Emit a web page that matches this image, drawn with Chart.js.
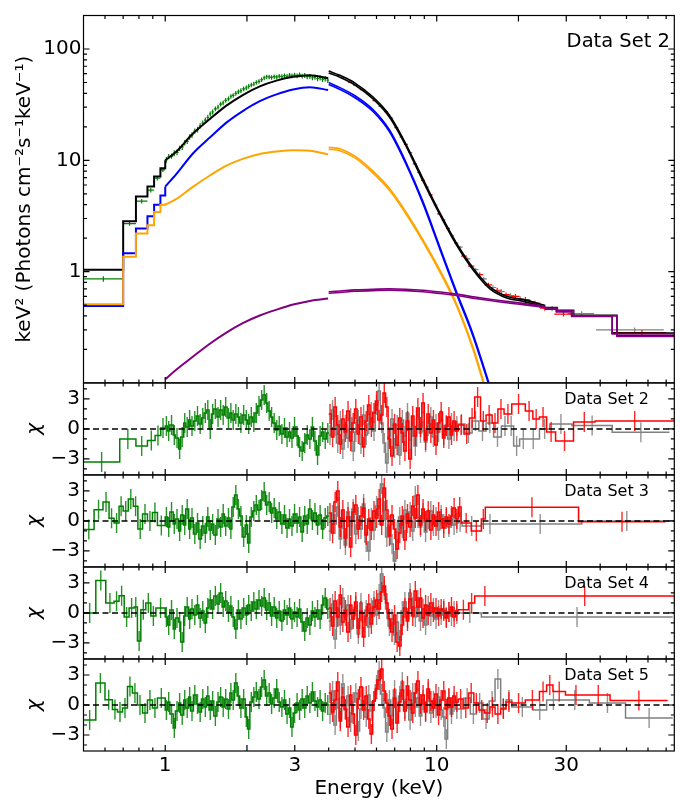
<!DOCTYPE html>
<html>
<head>
<meta charset="utf-8">
<script src="https://cdn.jsdelivr.net/npm/chart.js@4.4.0/dist/chart.umd.min.js"></script>
<style>
  html, body { margin: 0; padding: 0; background: #fff; }
  #wrap { width: 680px; height: 801px; }
</style>
</head>
<body>
<div id="wrap"><canvas id="spec" width="680" height="801"></canvas></div>
<script>
// ── axes / ticks ─────────────────────────────
const xRange = [0.5, 75];
const xTickLabels = [1, 3, 10, 30];
const xMajorTicks = [1, 2, 3, 10, 20, 30];
const xMinorTicks = [0.6, 0.7, 0.8, 0.9, 4, 5, 6, 7, 8, 9, 40, 50, 60, 70];
const yMainRange = [0.1, 200];
const yMainLabels = [1, 10, 100];
const yMainMinor = [0.2, 0.3, 0.4, 0.5, 0.6, 0.7, 0.8, 0.9, 2, 3, 4, 5, 6, 7, 8, 9, 20, 30, 40, 50, 60, 70, 80, 90];
const yResRange = [-4.6, 4.6];
const yResLabels = [-3, 0, 3];
const yResMinor = [-4, -2, -1, 1, 2, 4];
const panelNames = ['Data Set 2', 'Data Set 3', 'Data Set 4', 'Data Set 5'];

// ── energy grids (keV, bin edges) ────────────
const lowEdges = [0.5, 0.70, 0.78, 0.86, 0.91, 0.96, 1.0];
const softEdges = [1.00, 1.02, 1.04, 1.07, 1.09, 1.12, 1.14, 1.17, 1.19, 1.22, 1.24, 1.27, 1.30, 1.33, 1.36, 1.39,
  1.42, 1.45, 1.48, 1.51, 1.55, 1.58, 1.62, 1.65, 1.69, 1.73, 1.76, 1.80, 1.84, 1.88, 1.92, 1.97, 2.01, 2.05,
  2.10, 2.14, 2.19, 2.24, 2.29, 2.34, 2.39, 2.44, 2.49, 2.55, 2.60, 2.66, 2.72, 2.78, 2.84, 2.90, 2.96, 3.03,
  3.09, 3.16, 3.23, 3.30, 3.37, 3.45, 3.52, 3.60, 3.68, 3.76, 3.84, 3.93, 4.01];
const hardEdges = [4.00, 4.09, 4.18, 4.27, 4.37, 4.46, 4.56, 4.66, 4.77, 4.87, 4.98, 5.09, 5.20, 5.32, 5.44, 5.56,
  5.68, 5.81, 5.94, 6.07, 6.20, 6.34, 6.48, 6.62, 6.77, 6.92, 7.07, 7.23, 7.39, 7.55, 7.72, 7.89, 8.07, 8.25,
  8.43, 8.62, 8.81, 9.00, 9.20, 9.41, 9.62, 9.83, 10.05, 10.27, 10.50, 10.73, 10.97, 11.21, 11.46, 11.72, 12.00];

// ── model components, Data Set 2 (keV^2 photons cm^-2 s^-1 keV^-1) ──
const blackLow = [1.04, 2.83, 4.73, 5.81, 7.14, 8.48];
const blueLow = [0.49, 1.46, 2.44, 3.14, 3.99, 4.83];
const orangeLow = [0.51, 1.36, 2.2, 2.61, 3.43, 3.99];

const leftModelE = [1.0, 1.1, 1.26, 1.46, 1.68, 1.93, 2.23, 2.57, 2.96, 3.41, 3.98];
const blackLeft = [10.0, 12.0, 17.2, 23.5, 31.0, 38.6, 46.2, 52.0, 56.2, 58.1, 54.8];
const blueLeft = [5.8, 7.55, 11.4, 16.0, 21.8, 27.7, 34.0, 39.1, 43.3, 45.4, 42.8];
const orangeLeft = [4.0, 4.5, 5.74, 7.3, 8.95, 10.3, 11.4, 12.0, 12.3, 12.2, 11.3];
const purpleLeft = [0.108, 0.132, 0.171, 0.225, 0.283, 0.344, 0.403, 0.455, 0.506, 0.545, 0.572];

const rightModelE = [4.0, 4.4, 5.0, 5.8, 6.7, 7.7, 8.9, 10.3, 11.8, 13.6, 15.7, 18.1, 20.8, 23.5, 25.1];
const blackRightA = [61.0, 55.8, 47.5, 35.9, 24.4, 13.5, 6.5, 3.2, 1.75, 1.04, 0.70, 0.58, 0.54, 0.50, 0.48];
const blackRightB = [63.4, 58.0, 49.4, 37.3, 25.4, 14.0, 6.8, 3.33, 1.82, 1.08, 0.73, 0.60, 0.56, 0.52, 0.495];
const blueRightA = [48.0, 43.3, 36.5, 27.7, 18.0, 9.27, 4.07, 1.56, 0.64, 0.263, 0.09];
const blueRightB = [49.9, 45.0, 38.0, 28.8, 18.7, 9.65, 4.25, 1.63, 0.67, 0.275, 0.094];
const orangeRightA = [12.6, 12.2, 10.5, 7.76, 5.37, 3.31, 1.86, 0.977, 0.50, 0.20, 0.063];
const orangeRightB = [13.1, 12.7, 10.9, 8.07, 5.58, 3.44, 1.93, 1.02, 0.52, 0.21, 0.066];
const purpleRightA = [0.64, 0.65, 0.665, 0.675, 0.68, 0.675, 0.66, 0.635, 0.61, 0.578, 0.55, 0.525, 0.505, 0.485, 0.472];
const purpleRightB = [0.66, 0.67, 0.685, 0.695, 0.70, 0.695, 0.68, 0.655, 0.628, 0.595, 0.565, 0.54, 0.518, 0.498, 0.485];

const tailEdgesA = [25.1, 27.6, 31.4, 44.3, 75];
const blackTailA = [0.465, 0.44, 0.40, 0.28];
const purpleTailA = [0.46, 0.435, 0.395, 0.275];
const tailEdgesB = [25.1, 27.8, 31.9, 46.1, 75];
const blackTailB = [0.475, 0.45, 0.405, 0.265];
const purpleTailB = [0.47, 0.445, 0.40, 0.262];

// ── unfolded data, Data Set 2 ────────────────
const greenLowVals = [0.86, 2.7, 4.3, 5.4, 6.9, 8.2];
const greenLowErr = [0.05, 0.12, 0.2, 0.25, 0.3, 0.35];
const greenSoftVals = [10.1, 10.8, 10.9, 11.6, 11.8, 12.8, 13.2, 14.4, 14.8, 16.2,
  16.9, 18.3, 18.9, 20.4, 21.6, 23.0, 24.3, 26.1, 27.2, 29.0,
  30.1, 32.0, 32.8, 34.6, 35.7, 37.5, 38.3, 40.0, 41.2, 42.3,
  43.9, 44.8, 46.2, 47.5, 48.5, 50.0, 51.2, 53.0, 55.0, 56.3,
  56.2, 55.6, 56.4, 55.8, 57.0, 56.5, 57.6, 56.9, 58.2, 57.4,
  58.3, 57.5, 58.6, 57.2, 57.9, 56.3, 56.8, 55.2, 55.9, 54.3,
  55.0, 53.4, 54.1, 52.6];
const greenSoftErr = [0.6, 0.6, 0.6, 0.7, 0.7, 0.7, 0.8, 0.8, 0.8, 0.9,
  1.0, 1.0, 1.1, 1.1, 1.2, 1.2, 1.3, 1.3, 1.4, 1.4,
  1.5, 1.6, 1.6, 1.7, 1.7, 1.8, 1.8, 1.9, 2.0, 2.0,
  2.1, 2.1, 2.2, 2.2, 2.3, 2.3, 2.4, 2.4, 2.5, 2.5,
  2.6, 2.6, 2.6, 2.6, 2.7, 2.7, 2.7, 2.7, 2.8, 2.8,
  2.8, 2.8, 2.8, 2.8, 2.9, 2.9, 2.9, 2.9, 2.9, 2.9,
  3.0, 3.0, 3.0, 3.0];
// hard-band points: centre energy, half bin width, value, error
const redMainE = [4.3, 4.8, 5.3, 5.9, 6.5, 7.1, 7.7, 8.3, 8.9, 9.5, 10.2, 11.0, 11.8, 12.6, 13.4, 14.4, 15.5,
  16.7, 18.0, 19.5, 21.2, 23.0, 25.0, 29.3, 57];
const redMainDE = [0.07, 0.08, 0.09, 0.1, 0.11, 0.12, 0.13, 0.14, 0.15, 0.16, 0.17, 0.18, 0.2, 0.3, 0.35, 0.4,
  0.5, 0.55, 0.6, 0.7, 0.8, 0.9, 1.0, 2.2, 13];
const redMainVals = [57.8, 50.1, 43.2, 34.4, 27.3, 19.7, 13.9, 9.3, 6.6, 4.9, 3.3, 2.45, 1.8, 1.38, 1.12, 0.94,
  0.76, 0.68, 0.62, 0.60, 0.56, 0.52, 0.47, 0.415, 0.283];
const redMainErr = [0.6, 0.5, 0.45, 0.35, 0.3, 0.22, 0.17, 0.12, 0.09, 0.07, 0.055, 0.045, 0.04, 0.04, 0.04, 0.04,
  0.035, 0.035, 0.03, 0.03, 0.03, 0.028, 0.025, 0.02, 0.015];
const grayMainE = [4.5, 5.0, 5.6, 6.2, 6.8, 7.4, 8.0, 8.6, 9.2, 9.9, 10.6, 11.4, 12.2, 13.0, 13.9, 14.9, 16.1,
  17.3, 18.7, 20.3, 22.1, 24.0, 26.6, 34.2, 53.6];
const grayMainDE = [0.07, 0.08, 0.09, 0.1, 0.11, 0.12, 0.13, 0.14, 0.15, 0.16, 0.17, 0.18, 0.25, 0.3, 0.35, 0.4,
  0.45, 0.5, 0.6, 0.7, 0.8, 0.9, 1.2, 3.8, 15];
const grayMainVals = [55.3, 47.0, 39.5, 30.5, 23.9, 16.2, 11.7, 7.8, 5.75, 3.95, 2.92, 2.1, 1.66, 1.3, 1.04, 0.86,
  0.72, 0.66, 0.61, 0.57, 0.53, 0.50, 0.465, 0.42, 0.30];
const grayMainErr = [0.6, 0.5, 0.45, 0.35, 0.3, 0.22, 0.17, 0.12, 0.09, 0.07, 0.055, 0.045, 0.04, 0.04, 0.04, 0.04,
  0.035, 0.035, 0.03, 0.03, 0.03, 0.028, 0.025, 0.02, 0.015];

// ── residuals (chi) ──────────────────────────
// Data Set 2
const ds2LowEdges = [0.5, 0.68, 0.78, 0.86, 0.918, 0.963, 1.0];
const ds2LowVals = [-3.3, -1.0, -1.7, -1.15, -0.65, 0.1];
const ds2Soft = [0.3, -0.2, 0.4, -0.6, -0.9, -2.0, -0.8, 0.6, 0.2, 0.9,
  0.3, 0.8, 1.3, 0.5, 1.1, 1.6, 1.9, 0.0, 1.5, 2.0,
  1.2, 1.9, 1.4, 2.2, 1.1, 1.6, 0.9, 1.5, 1.2, 0.6,
  1.4, 0.9, 0.5, 1.2, 0.7, 1.6, 2.3, 2.9, 3.4, 2.6,
  1.8, 1.2, 0.6, -0.1, 0.3, -0.5, 0.1, -0.8, -0.3, -0.9,
  0.2, -0.7, -1.8, -2.2, -1.4, -0.6, -1.0, 0.2, -1.2, -2.6,
  -0.7, -0.3, -1.0, -0.4];
const ds2Red = [1.5, -0.8, 2.2, 0.4, -1.5, 1.0, -0.3, 1.8, -1.2, 0.6,
  2.0, -0.5, 1.2, -1.8, 0.8, 2.4, 0.2, 1.6, 2.8, 0.9,
  1.4, 3.6, 2.2, -1.0, -2.7, 0.5, -1.6, 1.1, -0.4, -2.2,
  0.8, -3.0, 1.3, -0.7, 2.1, 0.2, 2.6, -1.1, 1.5, -0.4,
  0.9, -1.6, 0.6, 1.7, -0.9, 0.3, 1.2, -0.6, 0.8, -0.2];
const ds2RedTailEdges = [12.0, 12.6, 13.2, 13.8, 14.5, 15.2, 16.0, 16.8, 17.7, 18.9, 21.2, 22.6, 23.9, 25.4, 27.4, 31.9, 38.3, 75];
const ds2RedTail = [0.4, -0.5, 1.1, 3.2, 0.8, 1.4, 0.6, 2.0, 1.5, 2.5, 1.8, 1.0, 1.2, -0.3, -1.2, 0.7, 0.8];
const ds2Gray = [-0.6, 1.9, 0.3, -1.4, 0.8, -2.0, 0.4, -0.9, 1.1, -2.2,
  -0.3, 0.9, -1.5, 1.4, -0.6, 0.5, 1.7, -0.2, 2.4, 3.8,
  0.6, -1.4, -3.4, -0.8, 1.0, -1.9, 0.4, -2.6, 0.9, -0.7,
  1.6, -1.1, 0.2, -1.7, 1.0, -0.4, 0.7, -1.3, 0.3, 1.2,
  -0.8, 0.5, -0.3, 0.9, -0.6, 0.4, -1.0, 0.6, -0.2, 0.3];
const ds2GrayTailEdges = [12.0, 12.7, 13.5, 14.3, 15.2, 16.2, 17.3, 18.4, 19.2, 20.2, 21.5, 23.9, 26.1, 31.5, 44.3, 72];
const ds2GrayTail = [0.5, -0.4, 0.8, -0.2, 0.6, -0.8, 0.3, 0.3, -1.7, -1.0, -1.0, 0.0, 0.5, 0.33, -0.33];

// Data Set 3
const ds3LowEdges = [0.5, 0.547, 0.59, 0.621, 0.648, 0.676, 0.70, 0.731, 0.763, 0.793, 0.825, 0.86, 0.897, 0.936, 1.0];
const ds3LowVals = [-0.86, 1.13, 1.9, 0.27, -0.2, 1.46, 1.0, 2.2, 1.46, -0.8, 0.7, 0.0, 0.85, -0.45];
const ds3Soft = [0.4, -0.6, 0.9, -0.3, 0.2, -1.0, 0.6, -0.4, 1.2, -0.8,
  0.3, -1.3, -0.2, -1.8, -0.5, -1.2, 0.4, -0.9, -0.3, -1.4,
  0.2, -0.6, 0.7, -0.5, 0.3, -0.8, 1.4, 2.6, 1.2, 0.5,
  -1.6, -0.4, -2.2, 0.4, 1.0, 1.6, 1.1, 2.1, 2.9, 1.6,
  1.9, 0.8, 1.3, 0.2, 0.9, -0.3, 0.6, -0.7, 0.2, -0.5,
  0.7, -0.2, 0.4, -1.1, 0.5, -0.3, 1.2, 0.1, 0.8, -0.4,
  0.6, -0.8, 0.3, 0.5];
const ds3Red = [0.8, -1.2, 1.9, 3.0, -0.6, 1.1, -1.7, 0.4, -2.6, 0.9,
  1.6, -0.8, 0.5, 1.3, -1.4, 0.2, -0.9, 1.0, 0.3, 2.2,
  -0.4, 3.3, 1.1, -1.5, 0.6, -0.8, -2.8, -1.2, 0.5, -1.9,
  0.7, -0.6, 1.5, 0.3, 2.6, -0.4, 1.2, 0.0, 1.0, -0.9,
  0.6, -0.5, 0.9, 0.2, -0.7, 0.4, -0.3, 0.5, 1.3, 0.2];
const ds3RedTailEdges = [12.0, 12.3, 13.4, 14.6, 15.1, 33.3, 69.6];
const ds3RedTail = [1.4, -0.2, -1.0, 0.2, 1.36, -0.07];
const ds3Gray = [-1.0, 0.6, -0.3, 1.4, -1.8, 0.2, -2.4, 0.9, -0.5, 1.2,
  -1.3, 0.4, -0.8, 1.7, -2.1, -3.0, 0.3, -0.9, 1.5, 0.6,
  3.7, 1.0, -1.6, -0.4, -2.3, -4.0, -1.1, 0.4, -0.7, 1.1,
  -0.2, 0.9, -1.0, 2.5, 0.3, -0.6, 0.8, -1.1, 0.2, 1.0,
  -0.5, 0.4, -0.9, 0.6, -0.3, 0.2, -0.6, 0.3, -0.4, -0.2];
const ds3GrayTailEdges = [12.0, 12.4, 14.6, 16.9, 34.2, 73.5];
const ds3GrayTail = [-0.07, -0.5, -0.3, -0.3, 0.0];

// Data Set 4
const ds4LowEdges = [0.5, 0.555, 0.604, 0.648, 0.676, 0.706, 0.736, 0.768, 0.79, 0.813, 0.848, 0.885, 0.924, 1.0];
const ds4LowVals = [0.0, 3.25, 1.0, 1.16, 1.72, -0.4, 0.5, 0.6, -2.8, 0.33, 1.0, -0.3, 0.5];
const ds4Soft = [-0.4, -1.2, 0.3, -1.6, -0.5, -0.9, -2.9, -0.3, 0.6, -0.6,
  0.4, -0.2, 0.8, -0.5, 0.2, -1.0, 0.5, 1.3, 0.4, 1.7,
  0.9, 2.0, 0.6, 1.2, 0.1, 0.7, -0.4, -1.6, 0.3, -0.6,
  0.5, -0.2, 0.8, 0.2, 1.1, 0.4, 1.3, 0.7, 1.5, 0.3,
  1.0, -0.3, 0.6, -0.5, 0.2, -0.8, 0.3, -0.2, 0.5, -0.6,
  0.1, -0.4, 0.4, -0.9, -1.8, -0.5, -1.2, 0.2, -0.4, 0.3,
  -0.6, 0.8, 1.5, 0.4];
const ds4Red = [0.5, -1.3, 1.2, -0.4, 1.8, -0.9, 0.3, -1.9, 0.8, -0.6,
  1.1, -1.5, 0.2, -2.4, -0.3, 0.9, -1.1, 0.6, 1.3, 0.4,
  2.1, 2.7, 1.0, -0.6, -1.9, -0.2, -2.9, -3.3, -1.2, 0.5,
  -0.8, 1.4, -0.3, 2.2, 0.6, 1.5, -0.5, 0.8, -0.2, 1.0,
  0.1, 0.5, -0.3, 0.4, 0.2, -0.5, 0.1, 0.6, -0.4, 0.2];
const ds4RedTailEdges = [12.0, 13.1, 13.8, 16.4, 75];
const ds4RedTail = [0.33, 1.0, 1.7, 1.7];
const ds4Gray = [-0.8, 0.9, -2.6, 0.4, -1.2, 1.5, -0.3, 0.8, -1.6, -0.4,
  0.7, -2.1, 1.0, -0.9, 0.3, -1.4, 0.5, 1.2, -0.2, 1.9,
  3.9, 2.3, 0.4, -1.3, -0.6, -2.2, -0.9, -2.7, 0.2, 1.1,
  -0.5, 2.0, 0.6, -0.4, 1.3, -0.8, 0.4, -1.2, 0.7, -0.3,
  0.5, -0.6, 0.3, -0.2, 0.4, -0.4, 0.1, -0.3, 0.2, -0.1];
const ds4GrayTailEdges = [12.0, 14.6, 74];
const ds4GrayTail = [0.0, -0.4];

// Data Set 5
const ds5LowEdges = [0.5, 0.555, 0.60, 0.639, 0.667, 0.696, 0.726, 0.757, 0.79, 0.825, 0.86, 0.897, 0.936, 1.0];
const ds5LowVals = [-1.5, 2.2, 0.53, -0.46, -0.7, -0.3, 1.86, 1.2, 0.0, -0.8, 0.5, -0.3, 0.7];
const ds5Soft = [-0.5, 0.3, -0.9, -2.3, -0.6, 0.2, -1.0, 0.5, -0.3, 0.8,
  -0.6, 1.0, 0.1, -0.7, 0.6, -0.2, 0.9, -0.5, 0.4, -1.1,
  0.3, 0.8, -0.2, 0.6, -0.4, 1.2, 0.5, 2.2, 0.9, -0.3,
  0.6, -1.2, -2.4, 0.3, 0.8, 1.3, 0.6, 1.8, 2.5, 0.9,
  1.2, 0.1, 0.7, 1.6, 0.3, -0.2, 0.5, -0.9, -0.3, -2.2,
  -0.8, 0.2, -0.5, 0.6, -0.3, 0.9, 0.2, 1.3, 0.4, -0.2,
  0.5, -0.6, 0.2, 0.0];
const ds5Red = [1.2, -0.7, 0.5, 2.3, -1.6, 0.8, -0.4, -2.2, 1.0, -0.9,
  -3.0, 0.6, 1.8, -0.5, 0.9, -1.4, -2.9, 0.4, 1.6, 2.5,
  3.6, 1.4, 0.2, -1.1, -2.4, 0.7, -1.8, 0.3, 1.5, -0.6,
  1.9, 0.5, -0.8, 1.2, 2.4, 0.1, 1.0, -0.7, 1.6, 0.4,
  -0.3, 1.1, -1.0, 0.5, 1.4, -0.4, 0.7, -0.2, 0.9, 0.3];
const ds5RedTailEdges = [12.0, 12.5, 13.1, 13.7, 14.3, 15.0, 15.7, 16.4, 17.2, 18.0, 18.9, 21.2, 23.9, 25.4, 26.8, 29.8, 35.6, 43.5, 70.9];
const ds5RedTail = [0.6, -0.3, 1.2, 0.2, -0.5, -0.8, -0.2, -0.9, -0.4, 0.3, 0.2, 0.5, 1.36, 2.0, 1.36, 1.0, 1.0, 0.46];
const ds5Gray = [-0.9, 1.4, -2.0, 0.6, -1.3, 2.1, -0.5, 0.9, -1.7, 0.3,
  1.2, -2.6, -0.4, 0.8, -1.2, 1.0, -0.6, 0.4, 2.0, 3.4,
  1.1, -0.3, -2.7, 0.5, -1.0, 1.5, -0.7, 0.9, 2.3, -0.4,
  0.6, -1.5, 1.2, -0.2, 0.7, -1.1, 0.5, -0.6, 1.3, -0.8,
  0.4, -0.3, 0.8, -0.5, -1.2, -3.4, 0.6, -0.9, 0.3, -0.4];
const ds5GrayTailEdges = [12.0, 12.6, 13.3, 14.0, 14.8, 15.6, 16.4, 17.2, 18.0, 18.9, 22.6, 25.4, 28.5, 36.5, 49.6, 74];
const ds5GrayTail = [-0.4, 0.7, -0.9, 0.2, -1.4, 0.4, 2.6, -0.3, 0.5, -0.2, -0.5, 0.5, 0.5, 0.2, -1.3];

// ═══════════════════════════════════════════
// helpers
// ═══════════════════════════════════════════
const FONT = "'DejaVu Sans', sans-serif";
const GREEN = '#008000', RED = '#ff0000', GRAY = '#808080';
const BLACK = '#000000', BLUE = '#0000ff', ORANGE = '#ffa500', PURPLE = '#800080';

function stepPoints(edges, vals) {
  const pts = vals.map((v, i) => ({ x: edges[i], y: v }));
  pts.push({ x: edges[edges.length - 1], y: vals[vals.length - 1] });
  return pts;
}
function bars(edges, vals, errs) {
  return vals.map((v, i) => ({ lo: edges[i], hi: edges[i + 1], y: v, e: errs ? errs[i] : 1 }));
}

function stepModel(yAxisID, edges, vals, color, width, order, joinTo) {
  const data = stepPoints(edges, vals);
  if (joinTo) data.push(joinTo);
  return { yAxisID, data, stepped: true, borderColor: color, borderWidth: width,
           pointRadius: 0, fill: false, order, clip: 0 };
}
function curveModel(E, vals, color, width, order) {
  return { yAxisID: 'y', data: vals.map((v, i) => ({ x: E[i], y: v })), borderColor: color,
           borderWidth: width, pointRadius: 0, fill: false, cubicInterpolationMode: 'monotone',
           order, clip: 0 };
}
// data with x-extent [lo, hi] and y error
function crossData(lo, hi, mid, vals, errs, color, order) {
  return { yAxisID: 'y', data: vals.map((v, i) => ({ x: mid[i], y: v })), showLine: false, pointRadius: 0,
           borderColor: color, order, clip: 0,
           errBars: vals.map((v, i) => ({ lo: lo[i], hi: hi[i], xc: mid[i], y: v, e: errs[i] })),
           errColor: color, errCross: true, errWidth: 1.2 };
}
function residual(yAxisID, edges, vals, color, order) {
  return { yAxisID, data: stepPoints(edges, vals), stepped: true, borderColor: color,
           borderWidth: 1.5, pointRadius: 0, fill: false, order, clip: 0,
           errBars: bars(edges, vals, null), errColor: color, errAlpha: 0.85, errWidth: 1.4 };
}

// ═══════════════════════════════════════════
// datasets
// ═══════════════════════════════════════════
const datasets = [];

// main panel — data (under the models)
const greenEdges = lowEdges.concat(softEdges.slice(1));
const greenVals = greenLowVals.concat(greenSoftVals);
datasets.push(crossData(greenEdges.slice(0, -1), greenEdges.slice(1),
  greenVals.map((v, i) => Math.sqrt(greenEdges[i] * greenEdges[i + 1])),
  greenVals, greenLowErr.concat(greenSoftErr), GREEN, 30));
datasets.push(crossData(grayMainE.map((e, i) => e - grayMainDE[i]), grayMainE.map((e, i) => e + grayMainDE[i]),
  grayMainE, grayMainVals, grayMainErr, GRAY, 29));
datasets.push(crossData(redMainE.map((e, i) => e - redMainDE[i]), redMainE.map((e, i) => e + redMainDE[i]),
  redMainE, redMainVals, redMainErr, RED, 28));

// main panel — models
datasets.push(stepModel('y', lowEdges, blackLow, BLACK, 2, 20, { x: leftModelE[0], y: blackLeft[0] }));
datasets.push(stepModel('y', lowEdges, blueLow, BLUE, 2, 19, { x: leftModelE[0], y: blueLeft[0] }));
datasets.push(stepModel('y', lowEdges, orangeLow, ORANGE, 2, 18, { x: leftModelE[0], y: orangeLeft[0] }));
datasets.push(curveModel(leftModelE, blackLeft, BLACK, 2, 20));
datasets.push(curveModel(leftModelE, blueLeft, BLUE, 2, 19));
datasets.push(curveModel(leftModelE, orangeLeft, ORANGE, 2, 18));
datasets.push(curveModel(leftModelE, purpleLeft, PURPLE, 2, 17));

[[blackRightA, BLACK, 20], [blackRightB, BLACK, 20], [blueRightA, BLUE, 19], [blueRightB, BLUE, 19],
 [orangeRightA, ORANGE, 18], [orangeRightB, ORANGE, 18], [purpleRightA, PURPLE, 17], [purpleRightB, PURPLE, 17]]
  .forEach(([vals, c, o]) => datasets.push(curveModel(rightModelE, vals, c, 1.6, o)));

datasets.push(stepModel('y', tailEdgesA, blackTailA, BLACK, 1.6, 20));
datasets.push(stepModel('y', tailEdgesB, blackTailB, BLACK, 1.6, 20));
datasets.push(stepModel('y', tailEdgesA, purpleTailA, PURPLE, 1.6, 17));
datasets.push(stepModel('y', tailEdgesB, purpleTailB, PURPLE, 1.6, 17));

// residual panels
const resPanels = [
  ['y1', ds2LowEdges, ds2LowVals, ds2Soft, ds2Red, ds2RedTailEdges, ds2RedTail, ds2Gray, ds2GrayTailEdges, ds2GrayTail],
  ['y2', ds3LowEdges, ds3LowVals, ds3Soft, ds3Red, ds3RedTailEdges, ds3RedTail, ds3Gray, ds3GrayTailEdges, ds3GrayTail],
  ['y3', ds4LowEdges, ds4LowVals, ds4Soft, ds4Red, ds4RedTailEdges, ds4RedTail, ds4Gray, ds4GrayTailEdges, ds4GrayTail],
  ['y4', ds5LowEdges, ds5LowVals, ds5Soft, ds5Red, ds5RedTailEdges, ds5RedTail, ds5Gray, ds5GrayTailEdges, ds5GrayTail]
];
resPanels.forEach(([id, lowE, lowV, soft, red, redTE, redT, gray, grayTE, grayT]) => {
  datasets.push(residual(id, lowE.concat(softEdges.slice(1)), lowV.concat(soft), GREEN, 3));
  datasets.push(residual(id, hardEdges.concat(grayTE.slice(1)), gray.concat(grayT), GRAY, 2));
  datasets.push(residual(id, hardEdges.concat(redTE.slice(1)), red.concat(redT), RED, 1));
});

// ═══════════════════════════════════════════
// decorations: error bars, frames, inward ticks, labels
// ═══════════════════════════════════════════
const panelDeco = {
  id: 'panelDeco',
  afterDatasetDraw(chart, args) {
    const ds = chart.data.datasets[args.index];
    if (!ds.errBars) return;
    const xs = chart.scales.x, ys = chart.scales[ds.yAxisID];
    const ctx = chart.ctx;
    ctx.save();
    ctx.beginPath();
    ctx.rect(xs.left, ys.top, xs.right - xs.left, ys.bottom - ys.top);
    ctx.clip();
    ctx.strokeStyle = ds.errColor;
    ctx.globalAlpha = ds.errAlpha || 1;
    ctx.lineWidth = ds.errWidth || 1.2;
    ctx.beginPath();
    ds.errBars.forEach(b => {
      const xc = xs.getPixelForValue(b.xc || Math.sqrt(b.lo * b.hi));
      ctx.moveTo(xc, ys.getPixelForValue(b.y - b.e));
      ctx.lineTo(xc, ys.getPixelForValue(b.y + b.e));
      if (ds.errCross) {
        const py = ys.getPixelForValue(b.y);
        ctx.moveTo(xs.getPixelForValue(b.lo), py);
        ctx.lineTo(xs.getPixelForValue(b.hi), py);
      }
    });
    ctx.stroke();
    ctx.restore();
  },
  afterDatasetsDraw(chart) {
    const ctx = chart.ctx, xs = chart.scales.x;
    ctx.save();
    ctx.strokeStyle = '#000';
    ctx.lineWidth = 1.5;
    ctx.setLineDash([6, 3.5]);
    ['y1', 'y2', 'y3', 'y4'].forEach(id => {
      const py = chart.scales[id].getPixelForValue(0);
      ctx.beginPath();
      ctx.moveTo(xs.left, py);
      ctx.lineTo(xs.right, py);
      ctx.stroke();
    });
    ctx.restore();
  },
  afterDraw(chart) {
    const ctx = chart.ctx, xs = chart.scales.x;
    const L = xs.left, R = xs.right;
    const ids = ['y', 'y1', 'y2', 'y3', 'y4'];
    ctx.save();
    ctx.strokeStyle = '#000';
    ctx.lineWidth = 1.2;
    ids.forEach((id, k) => {
      const s = chart.scales[id];
      const T = s.top, B = s.bottom;
      ctx.strokeRect(L, T, R - L, B - T);
      ctx.beginPath();
      const xt = (vals, len) => vals.forEach(v => {
        const px = xs.getPixelForValue(v);
        ctx.moveTo(px, B); ctx.lineTo(px, B - len);
        ctx.moveTo(px, T); ctx.lineTo(px, T + len);
      });
      const yt = (vals, len) => vals.forEach(v => {
        const py = s.getPixelForValue(v);
        ctx.moveTo(L, py); ctx.lineTo(L + len, py);
        ctx.moveTo(R, py); ctx.lineTo(R - len, py);
      });
      xt(xMajorTicks, 6);
      xt(xMinorTicks, 3.5);
      if (k === 0) { yt(yMainLabels, 6); yt(yMainMinor, 3.5); }
      else { yt(yResLabels, 6); yt(yResMinor, 3.5); }
      ctx.stroke();
    });
    ctx.fillStyle = '#000';
    ctx.textAlign = 'right';
    ctx.textBaseline = 'middle';
    ctx.font = '19.5px ' + FONT;
    ctx.fillText('Data Set 2', 670, chart.scales.y.top + 26.5);
    ctx.font = '16px ' + FONT;
    ['y1', 'y2', 'y3', 'y4'].forEach((id, k) => {
      ctx.fillText(panelNames[k], 649, chart.scales[id].top + 16.5);
    });
    ctx.restore();
  }
};

// ═══════════════════════════════════════════
// scales
// ═══════════════════════════════════════════
const tickFont = { size: 20, family: FONT };
function resAxis(weight) {
  return {
    type: 'linear', position: 'left', stack: 'panels', stackWeight: 92.5, weight,
    min: yResRange[0], max: yResRange[1], bounds: 'data',
    afterBuildTicks: ax => { ax.ticks = yResLabels.map(v => ({ value: v })); },
    afterFit: ax => { ax.width = 83.5; },
    ticks: { font: tickFont, color: '#000', padding: 3.5, autoSkip: false,
             callback: v => (v < 0 ? '\u2212' + Math.abs(v) : String(v)) },
    grid: { display: false, drawTicks: false },
    border: { display: false },
    title: { display: true, text: 'χ', color: '#000', font: { size: 20, style: 'italic', family: FONT },
             padding: { top: 23, bottom: 0 } }
  };
}

Chart.defaults.font.family = FONT;
Chart.defaults.color = '#000';

new Chart(document.getElementById('spec').getContext('2d'), {
  type: 'line',
  data: { datasets },
  options: {
    responsive: false,
    devicePixelRatio: 1,
    animation: false,
    layout: { padding: { top: 11.7, right: 5.7, left: 0, bottom: 0 } },
    plugins: { legend: { display: false }, tooltip: { enabled: false } },
    scales: {
      x: {
        type: 'logarithmic', position: 'bottom', min: xRange[0], max: xRange[1], bounds: 'data',
        afterBuildTicks: ax => { ax.ticks = xTickLabels.map(v => ({ value: v })); },
        afterFit: ax => { ax.height = 50; },
        ticks: { font: tickFont, color: '#000', padding: 3, autoSkip: false, maxRotation: 0,
                 callback: v => String(v) },
        grid: { display: false, drawTicks: false },
        border: { display: false },
        title: { display: true, text: 'Energy (keV)', color: '#000', font: { size: 20, family: FONT },
                 padding: { top: 0, bottom: 0 } }
      },
      y: {
        type: 'logarithmic', position: 'left', stack: 'panels', stackWeight: 369.3, weight: 5,
        min: yMainRange[0], max: yMainRange[1], bounds: 'data',
        afterBuildTicks: ax => { ax.ticks = yMainLabels.map(v => ({ value: v })); },
        afterFit: ax => { ax.width = 83.5; },
        ticks: { font: tickFont, color: '#000', padding: 2, autoSkip: false, callback: v => String(v) },
        grid: { display: false, drawTicks: false },
        border: { display: false },
        title: { display: true, text: 'keV² (Photons cm⁻²s⁻¹keV⁻¹)', color: '#000',
                 font: { size: 20, family: FONT }, padding: { top: 13, bottom: 0 } }
      },
      y1: resAxis(4),
      y2: resAxis(3),
      y3: resAxis(2),
      y4: resAxis(1)
    }
  },
  plugins: [panelDeco]
});
</script>
</body>
</html>
